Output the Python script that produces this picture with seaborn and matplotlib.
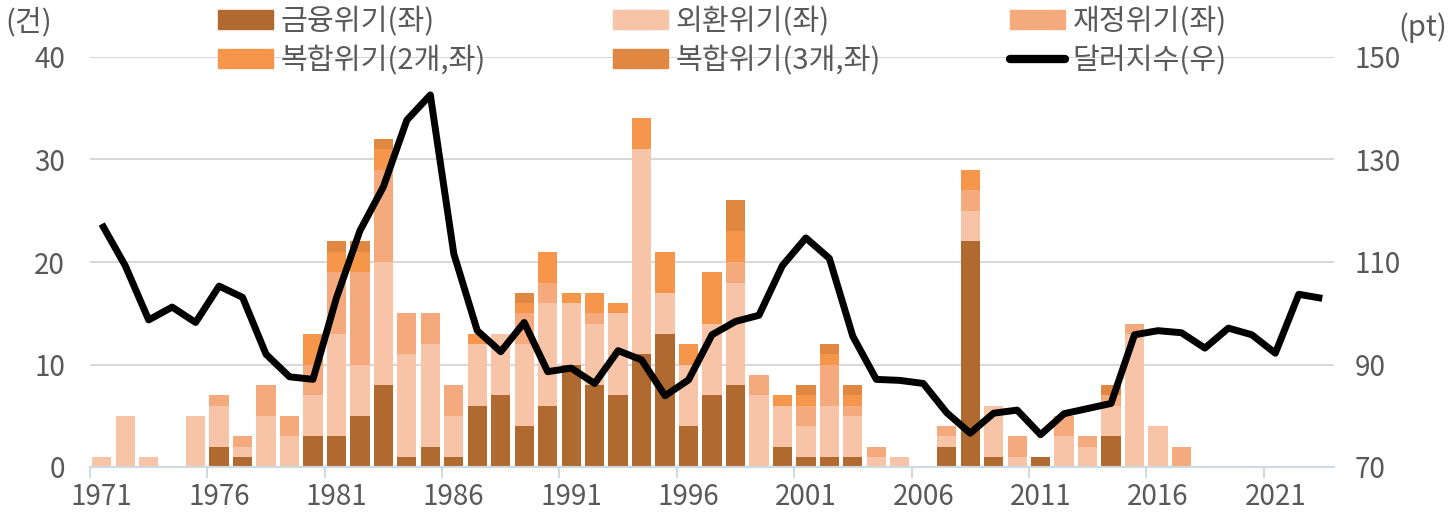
import numpy as np
import pandas as pd
import matplotlib
matplotlib.use("Agg")
import matplotlib.pyplot as plt
import seaborn as sns
from matplotlib.patches import Patch
from matplotlib.lines import Line2D
from matplotlib.ticker import FixedLocator

years = list(range(1971, 2024))
financial = [0, 0, 0, 0, 0, 2, 1, 0, 0, 3, 3, 5, 8, 1, 2, 1, 6, 7, 4, 6,
             10, 8, 7, 11, 13, 4, 7, 8, 0, 2, 1, 1, 1, 0, 0, 0, 2, 22, 1, 0,
             1, 0, 0, 3, 0, 0, 0, 0, 0, 0, 0, 0, 0]
fx = [1, 5, 1, 0, 5, 4, 1, 5, 3, 4, 10, 5, 12, 10, 10, 4, 6, 6, 8, 10,
      6, 6, 8, 20, 4, 6, 7, 10, 7, 4, 3, 5, 4, 1, 1, 0, 1, 3, 5, 1,
      0, 3, 2, 3, 13, 4, 0, 0, 0, 0, 0, 0, 0]
fiscal = [0, 0, 0, 0, 0, 1, 1, 3, 2, 3, 6, 9, 9, 4, 3, 3, 0, 0, 3, 2,
          0, 1, 0, 0, 0, 0, 0, 2, 2, 0, 2, 4, 1, 1, 0, 0, 1, 2, 0, 2,
          0, 2, 1, 1, 1, 0, 2, 0, 0, 0, 0, 0, 0]
compound2 = [0, 0, 0, 0, 0, 0, 0, 0, 0, 3, 2, 2, 2, 0, 0, 0, 1, 0, 1, 3,
             1, 2, 1, 3, 4, 2, 5, 3, 0, 1, 1, 1, 1, 0, 0, 0, 0, 2, 0, 0,
             0, 0, 0, 0, 0, 0, 0, 0, 0, 0, 0, 0, 0]
compound3 = [0, 0, 0, 0, 0, 0, 0, 0, 0, 0, 1, 1, 1, 0, 0, 0, 0, 0, 1, 0,
             0, 0, 0, 0, 0, 0, 0, 3, 0, 0, 1, 1, 1, 0, 0, 0, 0, 0, 0, 0,
             0, 0, 0, 1, 0, 0, 0, 0, 0, 0, 0, 0, 0]
dollar_index = [117.4, 109.3, 98.7, 101.2, 98.2, 105.3, 103.1, 92.0, 87.6, 87.1,
                103.0, 116.1, 124.7, 137.7, 142.6, 111.6, 96.6, 92.5, 98.2, 88.6,
                89.3, 86.3, 92.7, 90.9, 83.9, 87.0, 95.8, 98.4, 99.6, 109.3,
                114.7, 110.7, 95.5, 87.1, 86.9, 86.3, 80.6, 76.6, 80.5, 81.1,
                76.3, 80.4, 81.4, 82.4, 95.8, 96.6, 96.2, 93.2, 97.1, 95.8,
                92.2, 103.7, 102.9]
series_names = ["금융위기(좌)", "외환위기(좌)", "재정위기(좌)",
                "복합위기(2개,좌)", "복합위기(3개,좌)", "달러지수(우)"]
colors = ["#B06A30", "#F8C4A8", "#F5AA7D", "#F5964A", "#E08841"]
left_ticks = [0, 10, 20, 30, 40]
right_ticks = [70, 90, 110, 130, 150]

sns.set_theme(style="white")
plt.rcParams['font.family'] = ['Noto Sans CJK KR', 'DejaVu Sans']
TXT = "#595959"
FS = 20
LFS = 21

W, H = 1453, 524
fig = plt.figure(figsize=(W / 100, H / 100), dpi=100)
ax = fig.add_axes([90 / W, (H - 467) / H, (1334 - 90) / W, (467 - 57) / H])

year_str = [str(y) for y in years]
layers = [financial, fx, fiscal, compound2, compound3]
cum = np.cumsum(np.array(layers, dtype=float), axis=0)
df = pd.DataFrame({"year": year_str})
for i in range(len(layers) - 1, -1, -1):
    df["v"] = cum[i]
    sns.barplot(data=df, x="year", y="v", order=year_str, color=colors[i],
                saturation=1, width=0.82, errorbar=None, linewidth=0, ax=ax)

ax.set_xlim(-0.5, len(years) - 0.5)
ax.set_ylim(0, 40)
ax.set_yticks(left_ticks)
ax.set_axisbelow(True)
ax.grid(axis="y", color="#D9D9D9", lw=1.5)
ax.grid(axis="x", visible=False)
for s in ["top", "left", "right"]:
    ax.spines[s].set_visible(False)
ax.spines["bottom"].set_color("#D0D8E0")
ax.spines["bottom"].set_linewidth(1.5)
ax.set_xlabel("")
ax.set_ylabel("")

major = [i for i, y in enumerate(years) if (y - 1971) % 5 == 0]
ax.set_xticks(major)
ax.set_xticklabels([year_str[i] for i in major])
ax.xaxis.set_minor_locator(FixedLocator([i - 0.5 for i in major]))
ax.tick_params(axis="x", which="major", length=0, pad=11, labelsize=FS, labelcolor=TXT)
ax.tick_params(axis="x", which="minor", length=8, width=1.5, color="#D0D8E0", bottom=True)
ax.tick_params(axis="y", length=0, pad=18, labelsize=FS, labelcolor=TXT)

ax2 = ax.twinx()
sns.lineplot(x=np.arange(len(years)), y=dollar_index, ax=ax2, color="black",
             lw=5, solid_joinstyle="round", solid_capstyle="butt")
ax2.set_ylim(70, 150)
ax2.set_yticks(right_ticks)
ax2.set_xlim(-0.5, len(years) - 0.5)
for s in ax2.spines.values():
    s.set_visible(False)
ax2.grid(False)
ax2.tick_params(axis="y", length=0, pad=15, labelsize=FS, labelcolor=TXT)
ax2.set_ylabel("")

handles = [Patch(color=c) for c in colors] + [
    Line2D([], [], color="black", lw=6, solid_capstyle="round")]
col_x = [218, 613, 1010]
row_y = [22, 61]
for k, (h, lab) in enumerate(zip(handles, series_names)):
    cx = col_x[k % 3]
    cy = row_y[k // 3]
    fig.legend([h], [lab], loc="center left",
               bbox_to_anchor=(cx / W, 1 - cy / H), frameon=False,
               fontsize=LFS, labelcolor=TXT, borderpad=0, borderaxespad=0,
               handlelength=1.9, handleheight=0.6, handletextpad=0.25)

fig.text(5 / W, 1 - 22 / H, "(건)", fontsize=LFS, color=TXT, va="center", ha="left")
fig.text(1447 / W, 1 - 28 / H, "(pt)", fontsize=LFS, color=TXT, va="center", ha="right")

fig.savefig("out.png", dpi=100)
